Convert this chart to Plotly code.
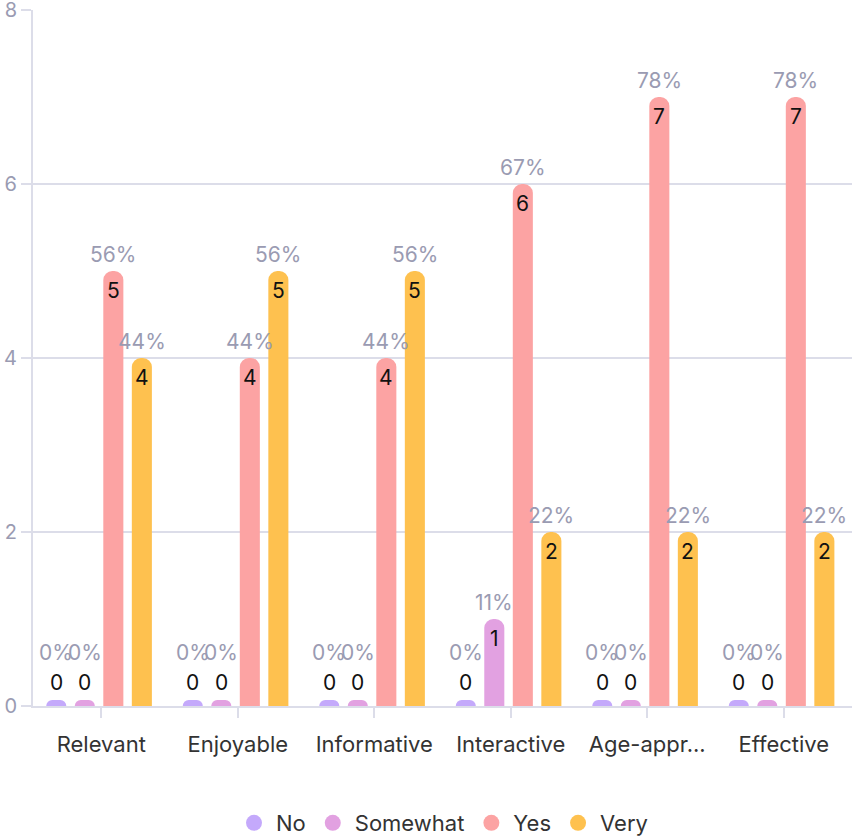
import plotly.graph_objects as go

categories = ["Relevant", "Enjoyable", "Informative", "Interactive", "Age-appr...", "Effective"]
series_names = ["No", "Somewhat", "Yes", "Very"]
no_vals = [0, 0, 0, 0, 0, 0]
somewhat_vals = [0, 0, 0, 1, 0, 0]
yes_vals = [5, 4, 4, 6, 7, 7]
very_vals = [4, 5, 5, 2, 2, 2]
y_ticks = [0, 2, 4, 6, 8]

colors = ["#c4a9fb", "#e2a1e1", "#fca3a3", "#fec14f"]
series_vals = [no_vals, somewhat_vals, yes_vals, very_vals]

FONT = "Inter"
GREY = "#9a9bb2"
GRID = "#dcdde9"
STUB = 0.07
SPACING = 0.209
BAR_W = 0.147

fig = go.Figure()
annotations = []
for k, (name, vals, col) in enumerate(zip(series_names, series_vals, colors)):
    xs = [i + (k - 1.5) * SPACING - 0.016 for i in range(len(categories))]
    totals = [sum(s[i] for s in series_vals) for i in range(len(categories))]
    heights = [max(v, STUB) for v in vals]
    fig.add_trace(go.Bar(
        x=xs, y=heights, width=BAR_W, marker=dict(color=col, line=dict(width=0)),
        name=name, showlegend=False, hoverinfo="skip",
    ))
    fig.add_trace(go.Scatter(
        x=[None], y=[None], mode="markers", name=name,
        marker=dict(color=col, size=24, symbol="circle"), showlegend=True,
    ))
    for x, v, t in zip(xs, vals, totals):
        pct = f"{round(v / t * 100)}%" if t else "0%"
        if v > 0:
            annotations.append(dict(x=x, y=v, xref="x", yref="y", text=str(v),
                                    showarrow=False, yanchor="top", yshift=-5,
                                    font=dict(family=FONT, size=21, color="#111111")))
            annotations.append(dict(x=x, y=v, xref="x", yref="y", text=pct,
                                    showarrow=False, yanchor="bottom", yshift=2,
                                    font=dict(family=FONT, size=21, color=GREY)))
        else:
            annotations.append(dict(x=x, y=STUB, xref="x", yref="y", text=str(v),
                                    showarrow=False, yanchor="bottom", yshift=3,
                                    font=dict(family=FONT, size=21, color="#111111")))
            annotations.append(dict(x=x, y=STUB, xref="x", yref="y", text=pct,
                                    showarrow=False, yanchor="bottom", yshift=33,
                                    font=dict(family=FONT, size=21, color=GREY)))

fig.update_layout(
    width=852, height=836,
    margin=dict(l=33, r=0, t=10, b=130, autoexpand=False),
    plot_bgcolor="white", paper_bgcolor="white",
    barmode="overlay", barcornerradius=9,
    font=dict(family=FONT, size=20, color="#333333"),
    annotations=annotations,
    showlegend=True,
    legend=dict(orientation="h", x=0.5, xanchor="center", y=-0.138, yanchor="top",
                font=dict(family=FONT, size=22, color="#333333"),
                itemsizing="trace", itemwidth=34),
    xaxis=dict(
        range=[-0.5, len(categories) - 0.5],
        tickvals=list(range(len(categories))), ticktext=categories,
        showgrid=False, zeroline=False,
        showline=True, linecolor=GRID, linewidth=2,
        ticks="outside", ticklen=10, tickwidth=1.5, tickcolor=GRID,
        ticklabelstandoff=8,
        tickfont=dict(family=FONT, size=22, color="#333333"),
        fixedrange=True, automargin=False,
    ),
    yaxis=dict(
        range=[0, 8.001], tickvals=y_ticks,
        showgrid=True, gridcolor=GRID, gridwidth=2,
        zeroline=False, showline=True, linecolor=GRID, linewidth=2,
        ticks="outside", ticklen=10, tickwidth=2, tickcolor=GRID,
        ticklabeloverflow="allow",
        tickfont=dict(family=FONT, size=20, color=GREY),
        fixedrange=True, automargin=False,
    ),
)

fig.write_html(
    "out.html",
    config={"displayModeBar": False},
    post_script="document.body.style.margin='0';document.body.style.padding='0';",
)
